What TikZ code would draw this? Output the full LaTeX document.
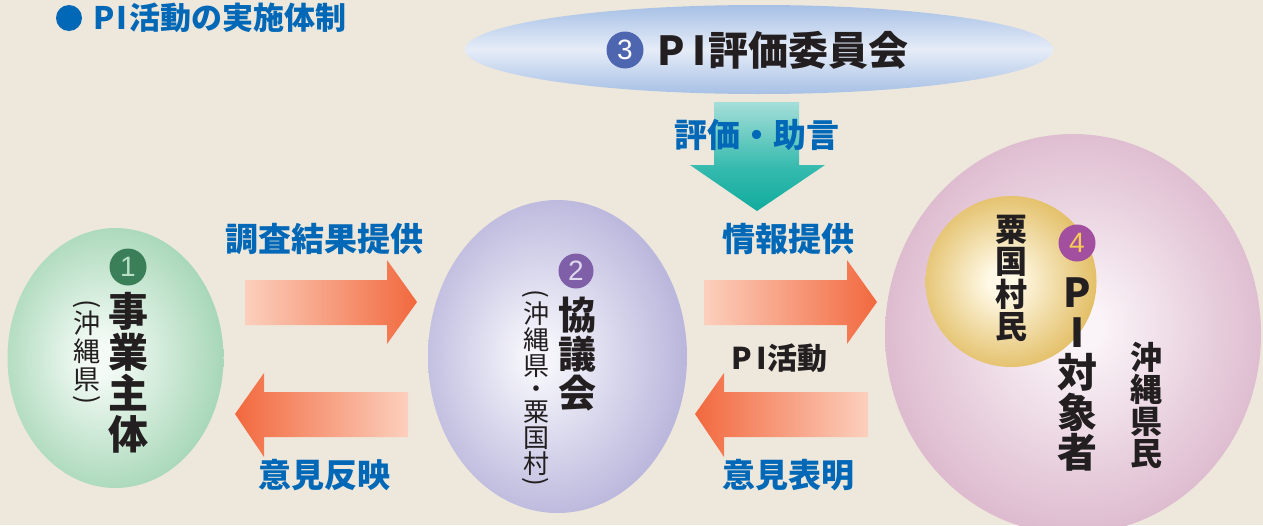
\documentclass[tikz,border=0pt]{standalone}
\usepackage{fontspec}
\usetikzlibrary{shapes.geometric}
\newfontfamily\jp{Noto Sans CJK JP}
\newfontfamily\num{Liberation Sans}

\definecolor{bg}{HTML}{EEE8DC}
\definecolor{tblue}{HTML}{0068B7}
\definecolor{ink}{HTML}{231F20}
\definecolor{gC}{HTML}{F4FBF6}
\definecolor{gE}{HTML}{93CEA7}
\definecolor{pC}{HTML}{F4F4FA}
\definecolor{pE}{HTML}{A8A3D3}
\definecolor{kC}{HTML}{FAF3F7}
\definecolor{kE}{HTML}{D3A6C0}
\definecolor{yC}{HTML}{FFF9E6}
\definecolor{yE}{HTML}{DDB34D}
\definecolor{bE}{HTML}{92B1DF}
\definecolor{bC}{HTML}{E6EDF8}
\definecolor{tL}{HTML}{C6E9E5}
\definecolor{tM}{HTML}{33B9AD}
\definecolor{tD}{HTML}{00A596}
\definecolor{oL}{HTML}{FEE2D4}
\definecolor{oD}{HTML}{F05A2C}
\definecolor{cA}{HTML}{3B7F58}
\definecolor{cAt}{HTML}{B8E0C6}
\definecolor{cB}{HTML}{7E5FA8}
\definecolor{cBt}{HTML}{E0D8F0}
\definecolor{cC}{HTML}{4E66AF}
\definecolor{cD}{HTML}{A24F9F}
\definecolor{cDt}{HTML}{F6CC55}

\pgfdeclareradialshading{gball}{\pgfpoint{-4bp}{0bp}}{color(0bp)=(gC); color(3bp)=(gC); color(33bp)=(gE); color(50bp)=(gE)}
\pgfdeclareradialshading{pball}{\pgfpoint{-4bp}{0bp}}{color(0bp)=(pC); color(3bp)=(pC); color(34bp)=(pE); color(50bp)=(pE)}
\pgfdeclareradialshading{kball}{\pgfpoint{1bp}{1bp}}{color(0bp)=(kC); color(3bp)=(kC); color(34bp)=(kE); color(50bp)=(kE)}
\pgfdeclareradialshading{yball}{\pgfpoint{-3bp}{0bp}}{color(0bp)=(yC); color(4bp)=(yC); color(31bp)=(yE); color(50bp)=(yE)}
\pgfdeclareverticalshading{skyband}{100bp}{color(0bp)=(bE); color(17bp)=(bE); color(50bp)=(bC); color(83bp)=(bE); color(100bp)=(bE)}
\pgfdeclareverticalshading{tealdown}{100bp}{color(0bp)=(tD); color(16bp)=(tD); color(44bp)=(tM); color(84bp)=(tL); color(100bp)=(tL)}
\pgfdeclarehorizontalshading{orR}{100bp}{color(0bp)=(oL); color(16bp)=(oL); color(82bp)=(oD); color(100bp)=(oD)}
\pgfdeclarehorizontalshading{orL}{100bp}{color(0bp)=(oD); color(18bp)=(oD); color(84bp)=(oL); color(100bp)=(oL)}

\newcommand{\vpl}{\rotatebox[origin=c]{-90}{(}}
\newcommand{\vpr}{\rotatebox[origin=c]{-90}{)}}

\begin{document}
\begin{tikzpicture}[x=1pt,y=-1pt,
  ball/.style={inner sep=0pt, shade},
  lbl/.style={text=tblue, inner sep=0pt, font=\jp\bfseries\fontsize{33}{33}\selectfont},
  vstack/.style={align=center, inner sep=0pt, text=ink},
  numc/.style={circle, inner sep=0pt, minimum size=37pt, font=\num\fontsize{28}{28}\selectfont}]
\fill[fill=bg] (0,0) rectangle (1263,525);
\useasboundingbox (0,0) rectangle (1263,525);

% title
\node[circle, fill=tblue, inner sep=0pt, minimum size=26pt] (tdot) at (69,18) {};
\node[anchor=west, text=tblue, inner sep=0pt, font=\jp\bfseries\fontsize{31}{31}\selectfont] (title) at (93,18) {P\kern2pt I\kern2pt 活動の実施体制};

% balls
\node[ball, ellipse, shading=skyband, minimum width=588pt, minimum height=89pt] (c3) at (759,49.5) {};
\node[ball, ellipse, shading=gball, minimum width=216pt, minimum height=260pt] (c1) at (115.5,358) {};
\node[ball, ellipse, shading=pball, minimum width=259pt, minimum height=313pt] (c2) at (557.5,356.5) {};
\node[ball, ellipse, shading=kball, minimum width=376pt, minimum height=400pt] (c4) at (1073,334) {};
\node[ball, circle, shading=yball, minimum size=171pt] (c5) at (1011,281.5) {};

% down arrow
\shade[shading=tealdown] (714,102) -- (799,102) -- (799,165) -- (825,165) -- (757,211) -- (690,165) -- (714,165) -- cycle;

% orange arrows
\shade[shading=orR] (245,280) -- (387,280) -- (387,260) -- (417,302) -- (387,344) -- (387,325) -- (245,325) -- cycle;
\shade[shading=orL] (408,392) -- (264,392) -- (264,373) -- (235,414) -- (264,457) -- (264,437) -- (408,437) -- cycle;
\shade[shading=orR] (704,280) -- (847,280) -- (847,260) -- (877,302) -- (847,344) -- (847,325) -- (704,325) -- cycle;
\shade[shading=orL] (868,392) -- (724,392) -- (724,373) -- (695,414) -- (724,457) -- (724,437) -- (868,437) -- cycle;

% number badges
\node[numc, fill=cA, text=cAt] (n1) at (128,267) {1};
\node[numc, fill=cB, text=cBt, minimum size=35pt] (n2) at (576,271) {2};
\node[numc, fill=cC, text=white] (n3) at (625,50) {3};
\node[numc, fill=cD, text=cDt] (n4) at (1077,243) {4};

% committee title
\node[anchor=west, inner sep=0pt, text=ink, font=\jp\bfseries\fontsize{40}{40}\selectfont] (t3) at (657,50) {P\kern8pt I\kern2pt 評価委員会};

% vertical texts
\node[vstack, font=\jp\bfseries\fontsize{40}{41}\selectfont] (t1) at (128,372.5) {事\\業\\主\\体};
\node[vstack, font=\jp\fontsize{27}{28}\selectfont] (t1s) at (87,353.5) {\vpl\\[-6pt]沖\\縄\\県\\[-10pt]\vpr};
\node[vstack, font=\jp\bfseries\fontsize{38}{39}\selectfont] (t2) at (577,354.5) {協\\議\\会};
\node[vstack, font=\jp\fontsize{26}{26}\selectfont] (t2s) at (536,390) {\vpl\\[-4.5pt]沖\\縄\\県\\[-3pt]・\\[-3pt]粟\\国\\村\\[-9.5pt]\vpr};
\node[vstack, font=\jp\bfseries\fontsize{32}{32.5}\selectfont] (t5) at (1011,278.5) {粟\\国\\村\\民};
\node[vstack, font=\jp\bfseries\fontsize{40}{40}\selectfont] (t4) at (1077,374.5) {P\\I\\対\\象\\者};
\node[vstack, font=\jp\bfseries\fontsize{32}{32}\selectfont] (t4s) at (1146,405) {沖\\縄\\県\\民};

% arrow labels
\node[lbl] (l3) at (757,135) {評価・助言};
\node[lbl] (l1) at (324,239) {調査結果提供};
\node[lbl] (l2) at (324,475) {意見反映};
\node[lbl] (l4) at (788,239) {情報提供};
\node[lbl] (l5) at (788,475) {意見表明};
\node[anchor=west, inner sep=0pt, text=ink, font=\jp\bfseries\fontsize{30}{30}\selectfont] (pia) at (731,358) {P\kern5pt I活動};
\end{tikzpicture}
\end{document}
